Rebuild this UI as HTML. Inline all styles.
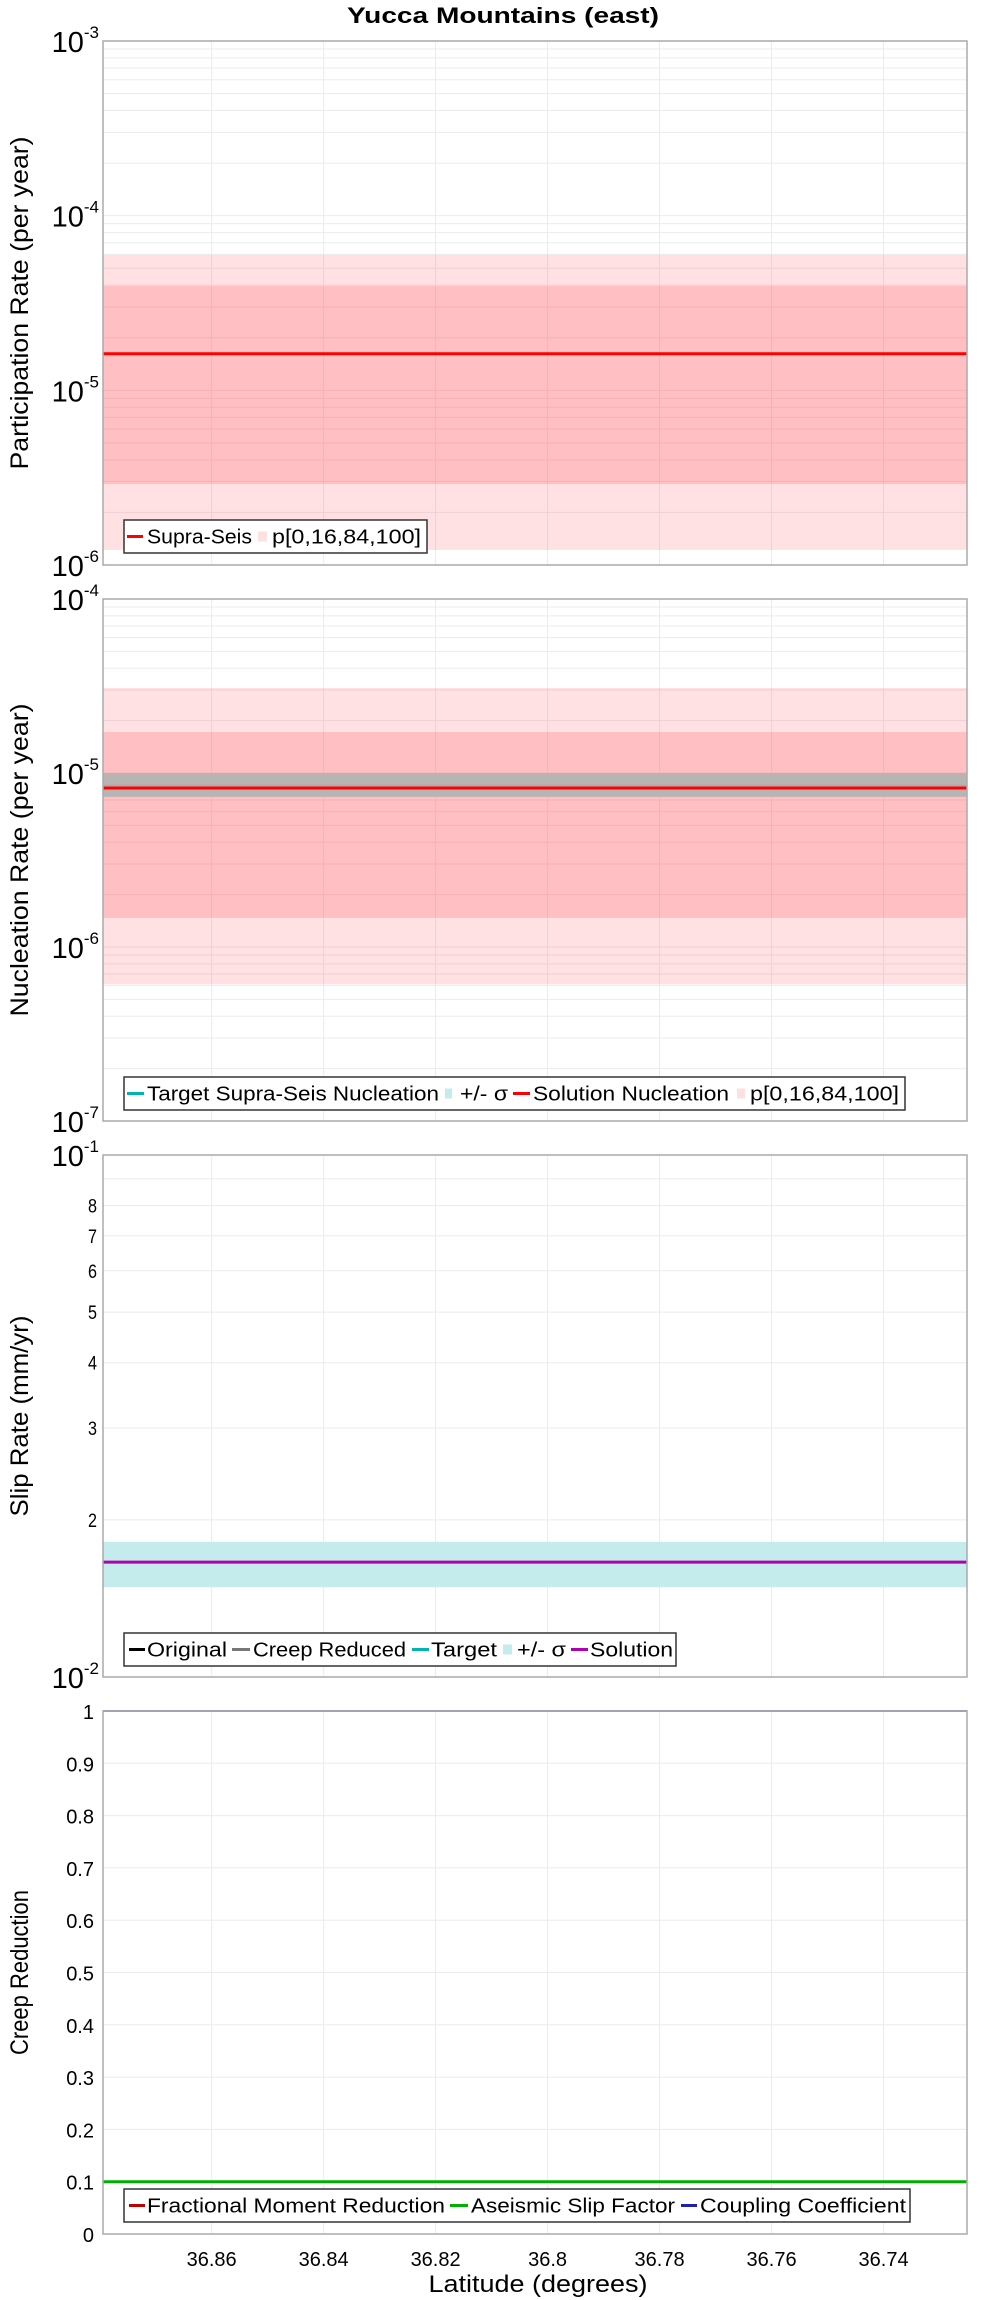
<!DOCTYPE html>
<html><head><meta charset="utf-8"><style>
body{margin:0;background:#fff}
svg{display:block;font-family:"Liberation Sans","DejaVu Sans",sans-serif}
</style></head><body>
<svg id="chart" width="1000" height="2300" viewBox="0 0 1000 2300">
<text x="503" y="23" text-anchor="middle" font-size="22" font-weight="bold" textLength="312" lengthAdjust="spacingAndGlyphs">Yucca Mountains (east)</text>
<g id="root"></g>
</svg>
<script>
// data
const latTicks = [36.86, 36.84, 36.82, 36.80, 36.78, 36.76, 36.74];
const latTickLabels = ["36.86","36.84","36.82","36.8","36.78","36.76","36.74"];
const latRange = [36.8794, 36.7251];
const partOuter = [1.22e-6, 5.96e-5];
const partInner = [2.91e-6, 3.96e-5];
const partSolution = [1.62e-5];
const nuclOuter = [6.1e-7, 3.08e-5];
const nuclInner = [1.47e-6, 1.72e-5];
const nuclTargetBand = [7.3e-6, 1.0e-5];
const nuclTarget = [8.5e-6];
const nuclSolution = [8.2e-6];
const slipBand = [0.01486, 0.01815];
const slipSolution = [0.0166];
const creepCoupling = [1.0];
const creepAseismic = [0.1];
const creepTickLabels = ["0","0.1","0.2","0.3","0.4","0.5","0.6","0.7","0.8","0.9","1"];

const NS = "http://www.w3.org/2000/svg";
const root = document.getElementById('root');
const X0 = 103, X1 = 967;
function xs(lat){ return X0 + (lat - latRange[0])/(latRange[1]-latRange[0])*(X1-X0); }
function mk(tag, attrs, parent, txt){
  const e = document.createElementNS(NS, tag);
  for (const k in attrs) e.setAttribute(k, attrs[k]);
  if (txt !== undefined) e.textContent = txt;
  (parent||root).appendChild(e); return e;
}
function logScale(top, bot, lo, hi){ return v => bot - (Math.log10(v)-Math.log10(lo))/(Math.log10(hi)-Math.log10(lo))*(bot-top); }
function linScale(top, bot, lo, hi){ return v => bot - (v-lo)/(hi-lo)*(bot-top); }

function panel(name, top, bot){
  const g = mk('g', {});
  
  
  return g;
}
function vgrid(g, top, bot){
  latTicks.forEach(t => {
    const l = mk('line', {x1: xs(t), x2: xs(t), y1: top, y2: bot, stroke: '#ebebeb', 'stroke-width': 1}, g);
    
    
  });
}
function hgrid(g, y){
  const l = mk('line', {x1: X0, x2: X1, y1: y, y2: y, stroke: '#ebebeb', 'stroke-width': 1}, g);
  
  
}
function band(g, ys, lohi, fill, name){
  const y1 = ys(lohi[1]), y2 = ys(lohi[0]);
  const r = mk('rect', {x: X0, y: y1, width: X1-X0, height: y2-y1, fill: fill}, g);
  
  
}
function hline(g, ys, v, color, w, name){
  const l = mk('line', {x1: xs(latRange[0]), x2: xs(latRange[1]), y1: ys(v), y2: ys(v), stroke: color, 'stroke-width': w}, g);
  
  
}
function frame(g, top, bot){
  const r = mk('rect', {x: X0, y: top, width: X1-X0, height: bot-top, fill: 'none', stroke: '#aaaaaa', 'stroke-width': 1.5}, g);
  
  
}
function ylabel(g, text, cy, len){
  const t = mk('text', {x: 0, y: 0, 'font-size': 25, 'text-anchor': 'middle', textLength: len, lengthAdjust: 'spacingAndGlyphs', transform: 'translate(28,'+cy+') rotate(-90)'}, g, text);
  
  
}
function powLabel(g, y, exp){
  const t = mk('text', {x: 99, y: y+11, 'font-size': 29, 'text-anchor': 'end'}, g);
  
  
  mk('tspan', {}, t, '10');
  mk('tspan', {dy: -14, 'font-size': 17}, t, exp);
}
function logGrid(g, ys, loExp, hiExp){
  for (let e = loExp; e <= hiExp; e++){
    const base = Math.pow(10, e);
    for (let m = 1; m <= 9; m++){
      if (e === hiExp && m > 1) break;
      hgrid(g, ys(base*m));
    }
    powLabel(g, ys(base), String(e));
  }
}
function legend(g, x, y, w, h, items){
  const lg = mk('g', {}, g);
  
  
  mk('rect', {x: x, y: y, width: w, height: h, fill: '#fff', stroke: '#333', 'stroke-width': 1.5}, lg);
  const cy = y + h/2;
  items.forEach(it => {
    const e = mk('g', {}, lg);
    
    
    if (it.box) mk('rect', {x: it.s[0], y: cy-5, width: it.s[1]-it.s[0], height: 10, fill: it.c}, e);
    else mk('line', {x1: it.s[0], x2: it.s[1], y1: cy, y2: cy, stroke: it.c, 'stroke-width': 3}, e);
    mk('text', {x: it.t[0], y: cy+7, 'font-size': 20, textLength: it.t[1]-it.t[0], lengthAdjust: 'spacingAndGlyphs'}, e, it.label);
  });
}

// Panel 1
(function(){
  const top = 41, bot = 565;
  const g = panel('participation-panel', top, bot);
  const ys = logScale(top, bot, 1e-6, 1e-3);
  vgrid(g, top, bot); logGrid(g, ys, -6, -3);
  band(g, ys, partOuter, 'rgba(255,90,100,0.18)', 'band-p0-100');
  band(g, ys, partInner, 'rgba(255,90,100,0.25)', 'band-p16-84');
  hline(g, ys, partSolution[0], '#ff0000', 3, 'supra-seis-line');
  frame(g, top, bot);
  ylabel(g, 'Participation Rate (per year)', (top+bot)/2, 333);
  legend(g, 124, 520, 303, 33, [
    {s:[127,143], c:'#ff0000', t:[147,252], label:'Supra-Seis'},
    {s:[258,267], c:'#fde0e0', box:true, t:[272,421], label:'p[0,16,84,100]'}]);
})();
// Panel 2
(function(){
  const top = 599, bot = 1121;
  const g = panel('nucleation-panel', top, bot);
  const ys = logScale(top, bot, 1e-7, 1e-4);
  vgrid(g, top, bot); logGrid(g, ys, -7, -4);
  band(g, ys, nuclOuter, 'rgba(255,90,100,0.18)', 'band-p0-100');
  band(g, ys, nuclInner, 'rgba(255,90,100,0.25)', 'band-p16-84');
  band(g, ys, nuclTargetBand, '#b9b4b4', 'target-sigma-band');
  hline(g, ys, nuclTarget[0], '#9aaaaa', 1, 'target-nucleation-line');
  hline(g, ys, nuclSolution[0], '#ff0000', 3, 'solution-nucleation-line');
  frame(g, top, bot);
  ylabel(g, 'Nucleation Rate (per year)', (top+bot)/2, 313);
  legend(g, 124, 1077, 781, 33, [
    {s:[127,144], c:'#00b4b4', t:[147,439], label:'Target Supra-Seis Nucleation'},
    {s:[445,452], c:'#c4ecec', box:true, t:[460,508], label:'+/- σ'},
    {s:[513,530], c:'#ff0000', t:[533,729], label:'Solution Nucleation'},
    {s:[737,745], c:'#fde0e0', box:true, t:[750,899], label:'p[0,16,84,100]'}]);
})();
// Panel 3
(function(){
  const top = 1155, bot = 1677;
  const g = panel('slip-rate-panel', top, bot);
  const ys = logScale(top, bot, 0.01, 0.1);
  vgrid(g, top, bot);
  for (let m = 1; m <= 10; m++) hgrid(g, ys(0.01*m));
  powLabel(g, ys(0.1), '-1'); powLabel(g, ys(0.01), '-2');
  for (let m = 2; m <= 8; m++){
    const t = mk('text', {x: 97, y: ys(0.01*m)+7, 'font-size': 19, 'text-anchor': 'end', textLength: 9, lengthAdjust: 'spacingAndGlyphs'}, g, String(m));
    
    
  }
  band(g, ys, slipBand, '#c4ecec', 'target-sigma-band');
  hline(g, ys, slipSolution[0], '#b000b0', 3, 'solution-line');
  frame(g, top, bot);
  ylabel(g, 'Slip Rate (mm/yr)', (top+bot)/2, 201);
  legend(g, 124, 1633, 552, 33, [
    {s:[129,145], c:'#000000', t:[147,227], label:'Original'},
    {s:[232,250], c:'#777777', t:[253,406], label:'Creep Reduced'},
    {s:[412,429], c:'#00b4b4', t:[431,497], label:'Target'},
    {s:[503,512], c:'#c4ecec', box:true, t:[517,566], label:'+/- σ'},
    {s:[571,588], c:'#b000b0', t:[590,673], label:'Solution'}]);
})();
// Panel 4
(function(){
  const top = 1711, bot = 2234;
  const g = panel('creep-panel', top, bot);
  const ys = linScale(top, bot, 0, 1);
  vgrid(g, top, bot);
  creepTickLabels.forEach((lab, i) => {
    const v = i/10;
    hgrid(g, ys(v));
    const t = mk('text', {x: 94, y: ys(v)+8, 'font-size': 20, 'text-anchor': 'end'}, g, lab);
    
    
  });
  hline(g, ys, creepCoupling[0], '#2020b0', 1.5, 'coupling-coefficient-line');
  hline(g, ys, creepAseismic[0], '#00b000', 3, 'aseismic-slip-line');
  frame(g, top, bot);
  ylabel(g, 'Creep Reduction', (top+bot)/2, 165);
  legend(g, 124, 2189, 786, 33, [
    {s:[129,145], c:'#c00000', t:[147,445], label:'Fractional Moment Reduction'},
    {s:[450,468], c:'#00b000', t:[471,675], label:'Aseismic Slip Factor'},
    {s:[681,697], c:'#2020b0', t:[700,906], label:'Coupling Coefficient'}]);
  latTicks.forEach((t, i) => {
    const e = mk('text', {x: xs(t), y: 2266, 'font-size': 20, 'text-anchor': 'middle'}, g, latTickLabels[i]);
    
    
  });
  const xt = mk('text', {x: 538, y: 2292, 'font-size': 24, 'text-anchor': 'middle', textLength: 219, lengthAdjust: 'spacingAndGlyphs'}, g, 'Latitude (degrees)');
  
  
})();
</script>
</body></html>
